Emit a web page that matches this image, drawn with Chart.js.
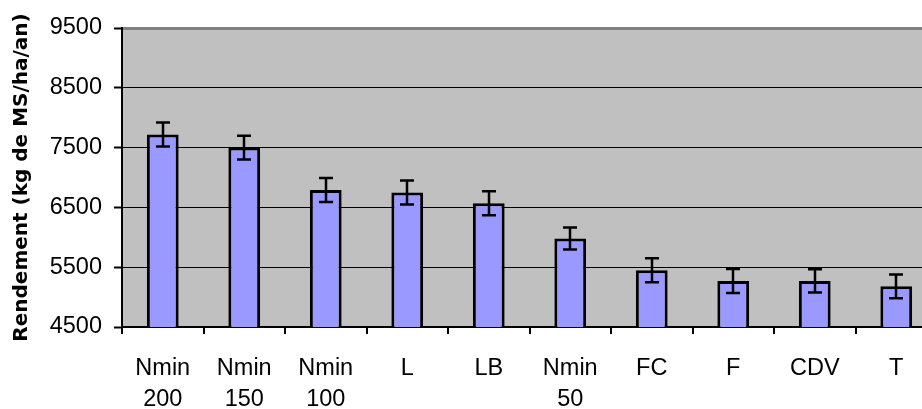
<!DOCTYPE html>
<html>
<head>
<meta charset="utf-8">
<script src="https://cdn.jsdelivr.net/npm/chart.js@4/dist/chart.umd.min.js"></script>
<style>
    html, body { margin: 0; padding: 0; background: #fff; overflow: hidden; }
    #wrap { width: 922px; height: 409px; overflow: hidden; }
    canvas { display: block; }
</style>
</head>
<body>
<div id="wrap"><canvas id="chart" width="940" height="409"></canvas></div>
<script>
// ── Data ──
const categories = [['Nmin', '200'], ['Nmin', '150'], ['Nmin', '100'], 'L', 'LB', ['Nmin', '50'], 'FC', 'F', 'CDV', 'T'];
const rendement = [7720, 7500, 6790, 6750, 6570, 5980, 5450, 5270, 5270, 5180];
const ecart = [200, 200, 200, 200, 200, 185, 200, 200, 195, 200];
const yTicks = [4500, 5500, 6500, 7500, 8500, 9500];

// ── Plot area fill ──
const plotBg = {
    id: 'plotBg',
    beforeDraw(chart) {
        const { ctx, chartArea: a } = chart;
        ctx.save();
        ctx.fillStyle = '#c0c0c0';
        ctx.fillRect(a.left, a.top, a.right - a.left, a.bottom - a.top);
        ctx.restore();
    }
};

// ── Error bars ──
const errorBars = {
    id: 'errorBars',
    afterDatasetsDraw(chart) {
        const { ctx } = chart;
        const y = chart.scales.y;
        const meta = chart.getDatasetMeta(0);
        ctx.save();
        ctx.strokeStyle = '#000';
        ctx.lineWidth = 2.5;
        meta.data.forEach((bar, i) => {
            const top = y.getPixelForValue(rendement[i] + ecart[i]);
            const bot = y.getPixelForValue(rendement[i] - ecart[i]);
            const x = Math.round(bar.x);
            ctx.beginPath();
            ctx.moveTo(x, top); ctx.lineTo(x, bot);
            ctx.moveTo(x - 7, top); ctx.lineTo(x + 7, top);
            ctx.moveTo(x - 7, bot); ctx.lineTo(x + 7, bot);
            ctx.stroke();
        });
        ctx.restore();
    }
};

const fam = '"Liberation Sans", Arial, sans-serif';

new Chart(document.getElementById('chart'), {
    type: 'bar',
    data: {
        labels: categories,
        datasets: [{
            data: rendement,
            backgroundColor: '#9999ff',
            borderColor: '#000',
            borderWidth: 3,
            categoryPercentage: 1,
            barPercentage: 0.39
        }]
    },
    options: {
        responsive: false,
        animation: false,
        layout: { padding: { top: 28, right: 3, left: 0, bottom: 0 } },
        plugins: { legend: { display: false }, tooltip: { enabled: false } },
        scales: {
            x: {
                grid: { offset: true, drawOnChartArea: false, color: '#000', lineWidth: 2, tickLength: 7 },
                border: { color: '#000', width: 2 },
                ticks: { color: '#000', font: { family: fam, size: 23.5, lineHeight: 1.32 }, padding: 19, maxRotation: 0 },
                afterFit: s => { s.height = 82; }
            },
            y: {
                min: 4500, max: 9500,
                afterBuildTicks: s => { s.ticks = yTicks.map(v => ({ value: v })); },
                grid: {
                    color: c => c.tick && c.tick.value === 9500 ? '#808080' : '#000',
                    lineWidth: c => c.tick && c.tick.value === 9500 ? 3 : 1,
                    tickColor: '#000', tickWidth: 2, tickLength: 8
                },
                border: { color: '#000', width: 2 },
                ticks: { color: '#000', font: { family: fam, size: 23.5 }, padding: 12, callback: v => String(v) },
                title: {
                    display: true,
                    text: 'Rendement (kg de MS/ha/an)',
                    color: '#000',
                    font: { family: '"DejaVu Sans", sans-serif', size: 20, weight: 'bold' },
                    padding: { top: 10, bottom: 0 }
                },
                afterFit: s => { s.width = 122; }
            }
        }
    },
    plugins: [plotBg, errorBars]
});
</script>
</body>
</html>
